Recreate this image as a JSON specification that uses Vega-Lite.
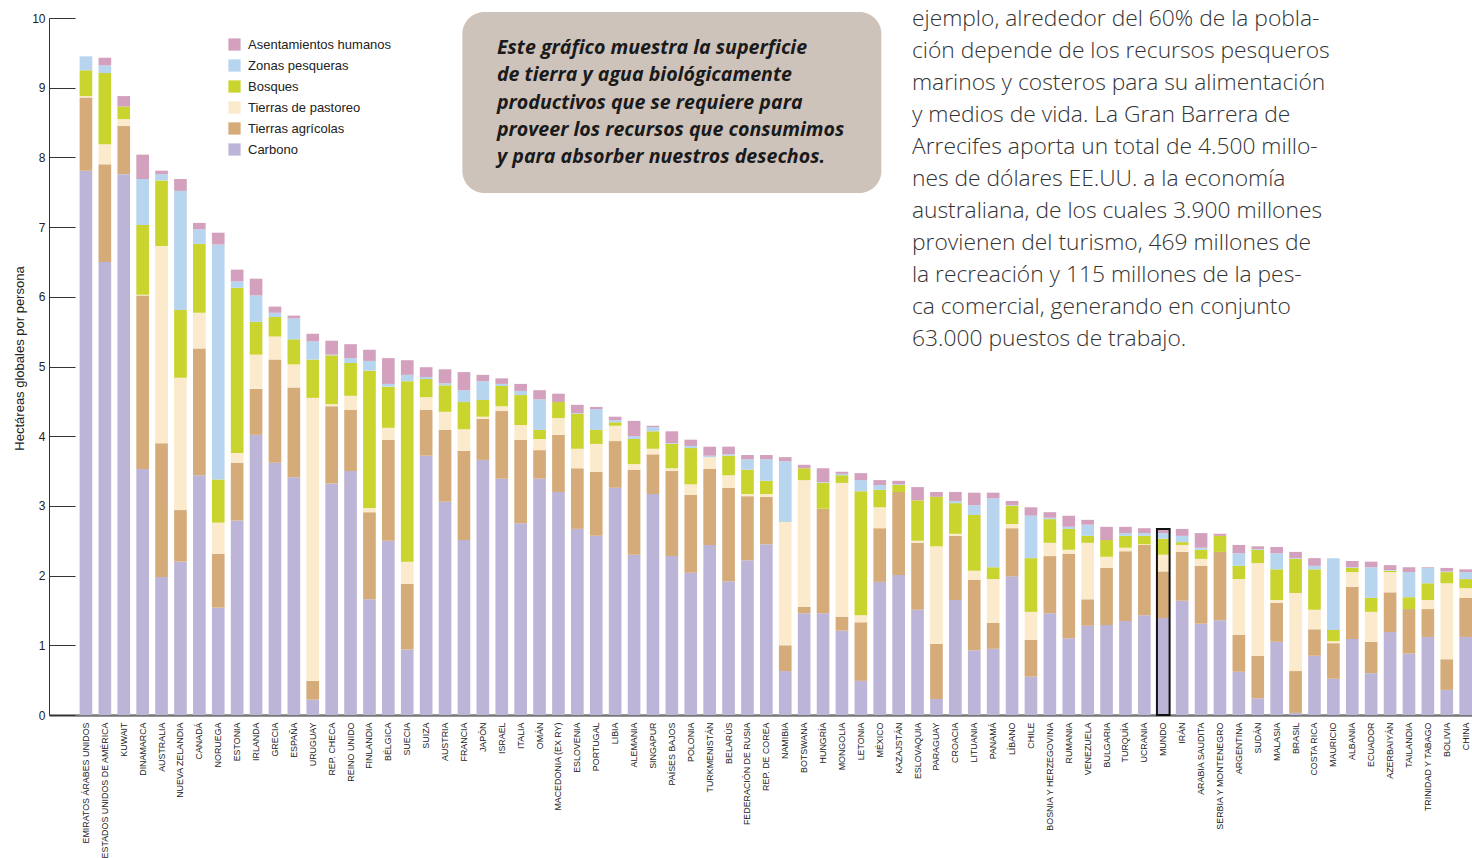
{
  "$schema": "https://vega.github.io/schema/vega-lite/v6.json",
  "width": 1423,
  "height": 697,
  "autosize": {"type": "none"},
  "padding": {"left": 49, "top": 18, "right": 0, "bottom": 143},
  "background": "white",
  "config": {"view": {"stroke": null}, "font": "Liberation Sans"},
  "datasets": {
    "capas": [
      {"tipo": "Carbono", "orden": 1},
      {"tipo": "Tierras agrícolas", "orden": 2},
      {"tipo": "Tierras de pastoreo", "orden": 3},
      {"tipo": "Bosques", "orden": 4},
      {"tipo": "Zonas pesqueras", "orden": 5},
      {"tipo": "Asentamientos humanos", "orden": 6}
    ],
    "huella": [
      {"pais": "EMIRATOS ÁRABES UNIDOS", "Carbono": 7.81, "Tierras agrícolas": 1.05, "Tierras de pastoreo": 0.02, "Bosques": 0.37, "Zonas pesqueras": 0.20, "Asentamientos humanos": 0.0},
      {"pais": "ESTADOS UNIDOS DE AMÉRICA", "Carbono": 6.50, "Tierras agrícolas": 1.40, "Tierras de pastoreo": 0.29, "Bosques": 1.02, "Zonas pesqueras": 0.11, "Asentamientos humanos": 0.11},
      {"pais": "KUWAIT", "Carbono": 7.76, "Tierras agrícolas": 0.69, "Tierras de pastoreo": 0.10, "Bosques": 0.18, "Zonas pesqueras": 0.0, "Asentamientos humanos": 0.15},
      {"pais": "DINAMARCA", "Carbono": 3.53, "Tierras agrícolas": 2.49, "Tierras de pastoreo": 0.01, "Bosques": 1.00, "Zonas pesqueras": 0.66, "Asentamientos humanos": 0.35},
      {"pais": "AUSTRALIA", "Carbono": 1.98, "Tierras agrícolas": 1.92, "Tierras de pastoreo": 2.83, "Bosques": 0.94, "Zonas pesqueras": 0.09, "Asentamientos humanos": 0.05},
      {"pais": "NUEVA ZELANDIA", "Carbono": 2.20, "Tierras agrícolas": 0.74, "Tierras de pastoreo": 1.90, "Bosques": 0.97, "Zonas pesqueras": 1.71, "Asentamientos humanos": 0.17},
      {"pais": "CANADÁ", "Carbono": 3.44, "Tierras agrícolas": 1.82, "Tierras de pastoreo": 0.51, "Bosques": 0.99, "Zonas pesqueras": 0.21, "Asentamientos humanos": 0.09},
      {"pais": "NORUEGA", "Carbono": 1.54, "Tierras agrícolas": 0.77, "Tierras de pastoreo": 0.45, "Bosques": 0.62, "Zonas pesqueras": 3.37, "Asentamientos humanos": 0.17},
      {"pais": "ESTONIA", "Carbono": 2.79, "Tierras agrícolas": 0.83, "Tierras de pastoreo": 0.14, "Bosques": 2.37, "Zonas pesqueras": 0.09, "Asentamientos humanos": 0.17},
      {"pais": "IRLANDA", "Carbono": 4.02, "Tierras agrícolas": 0.66, "Tierras de pastoreo": 0.49, "Bosques": 0.47, "Zonas pesqueras": 0.38, "Asentamientos humanos": 0.24},
      {"pais": "GRECIA", "Carbono": 3.62, "Tierras agrícolas": 1.48, "Tierras de pastoreo": 0.33, "Bosques": 0.28, "Zonas pesqueras": 0.06, "Asentamientos humanos": 0.09},
      {"pais": "ESPAÑA", "Carbono": 3.41, "Tierras agrícolas": 1.29, "Tierras de pastoreo": 0.33, "Bosques": 0.36, "Zonas pesqueras": 0.30, "Asentamientos humanos": 0.04},
      {"pais": "URUGUAY", "Carbono": 0.22, "Tierras agrícolas": 0.27, "Tierras de pastoreo": 4.06, "Bosques": 0.55, "Zonas pesqueras": 0.26, "Asentamientos humanos": 0.11},
      {"pais": "REP. CHECA", "Carbono": 3.32, "Tierras agrícolas": 1.11, "Tierras de pastoreo": 0.03, "Bosques": 0.70, "Zonas pesqueras": 0.01, "Asentamientos humanos": 0.20},
      {"pais": "REINO UNIDO", "Carbono": 3.50, "Tierras agrícolas": 0.88, "Tierras de pastoreo": 0.20, "Bosques": 0.47, "Zonas pesqueras": 0.07, "Asentamientos humanos": 0.20},
      {"pais": "FINLANDIA", "Carbono": 1.66, "Tierras agrícolas": 1.25, "Tierras de pastoreo": 0.06, "Bosques": 1.97, "Zonas pesqueras": 0.14, "Asentamientos humanos": 0.16},
      {"pais": "BÉLGICA", "Carbono": 2.50, "Tierras agrícolas": 1.45, "Tierras de pastoreo": 0.17, "Bosques": 0.59, "Zonas pesqueras": 0.04, "Asentamientos humanos": 0.37},
      {"pais": "SUECIA", "Carbono": 0.94, "Tierras agrícolas": 0.94, "Tierras de pastoreo": 0.32, "Bosques": 2.59, "Zonas pesqueras": 0.09, "Asentamientos humanos": 0.21},
      {"pais": "SUIZA", "Carbono": 3.72, "Tierras agrícolas": 0.66, "Tierras de pastoreo": 0.18, "Bosques": 0.26, "Zonas pesqueras": 0.03, "Asentamientos humanos": 0.14},
      {"pais": "AUSTRIA", "Carbono": 3.06, "Tierras agrícolas": 1.03, "Tierras de pastoreo": 0.26, "Bosques": 0.38, "Zonas pesqueras": 0.03, "Asentamientos humanos": 0.20},
      {"pais": "FRANCIA", "Carbono": 2.51, "Tierras agrícolas": 1.28, "Tierras de pastoreo": 0.31, "Bosques": 0.39, "Zonas pesqueras": 0.17, "Asentamientos humanos": 0.26},
      {"pais": "JAPÓN", "Carbono": 3.66, "Tierras agrícolas": 0.59, "Tierras de pastoreo": 0.03, "Bosques": 0.24, "Zonas pesqueras": 0.27, "Asentamientos humanos": 0.09},
      {"pais": "ISRAEL", "Carbono": 3.39, "Tierras agrícolas": 0.97, "Tierras de pastoreo": 0.07, "Bosques": 0.29, "Zonas pesqueras": 0.03, "Asentamientos humanos": 0.08},
      {"pais": "ITALIA", "Carbono": 2.75, "Tierras agrícolas": 1.20, "Tierras de pastoreo": 0.21, "Bosques": 0.43, "Zonas pesqueras": 0.06, "Asentamientos humanos": 0.10},
      {"pais": "OMÁN", "Carbono": 3.39, "Tierras agrícolas": 0.41, "Tierras de pastoreo": 0.16, "Bosques": 0.13, "Zonas pesqueras": 0.44, "Asentamientos humanos": 0.13},
      {"pais": "MACEDONIA (EX RY)", "Carbono": 3.20, "Tierras agrícolas": 0.82, "Tierras de pastoreo": 0.24, "Bosques": 0.23, "Zonas pesqueras": 0.0, "Asentamientos humanos": 0.12},
      {"pais": "ESLOVENIA", "Carbono": 2.67, "Tierras agrícolas": 0.87, "Tierras de pastoreo": 0.28, "Bosques": 0.50, "Zonas pesqueras": 0.01, "Asentamientos humanos": 0.12},
      {"pais": "PORTUGAL", "Carbono": 2.57, "Tierras agrícolas": 0.92, "Tierras de pastoreo": 0.40, "Bosques": 0.20, "Zonas pesqueras": 0.30, "Asentamientos humanos": 0.03},
      {"pais": "LIBIA", "Carbono": 3.26, "Tierras agrícolas": 0.67, "Tierras de pastoreo": 0.22, "Bosques": 0.05, "Zonas pesqueras": 0.03, "Asentamientos humanos": 0.05},
      {"pais": "ALEMANIA", "Carbono": 2.30, "Tierras agrícolas": 1.22, "Tierras de pastoreo": 0.08, "Bosques": 0.36, "Zonas pesqueras": 0.04, "Asentamientos humanos": 0.22},
      {"pais": "SINGAPUR", "Carbono": 3.17, "Tierras agrícolas": 0.57, "Tierras de pastoreo": 0.08, "Bosques": 0.25, "Zonas pesqueras": 0.06, "Asentamientos humanos": 0.02},
      {"pais": "PAÍSES BAJOS", "Carbono": 2.28, "Tierras agrícolas": 1.22, "Tierras de pastoreo": 0.04, "Bosques": 0.35, "Zonas pesqueras": 0.01, "Asentamientos humanos": 0.17},
      {"pais": "POLONIA", "Carbono": 2.04, "Tierras agrícolas": 1.12, "Tierras de pastoreo": 0.15, "Bosques": 0.52, "Zonas pesqueras": 0.03, "Asentamientos humanos": 0.09},
      {"pais": "TURKMENISTÁN", "Carbono": 2.44, "Tierras agrícolas": 1.09, "Tierras de pastoreo": 0.17, "Bosques": 0.0, "Zonas pesqueras": 0.02, "Asentamientos humanos": 0.13},
      {"pais": "BELARÚS", "Carbono": 1.92, "Tierras agrícolas": 1.34, "Tierras de pastoreo": 0.18, "Bosques": 0.28, "Zonas pesqueras": 0.02, "Asentamientos humanos": 0.11},
      {"pais": "FEDERACIÓN DE RUSIA", "Carbono": 2.22, "Tierras agrícolas": 0.92, "Tierras de pastoreo": 0.03, "Bosques": 0.35, "Zonas pesqueras": 0.15, "Asentamientos humanos": 0.06},
      {"pais": "REP. DE COREA", "Carbono": 2.45, "Tierras agrícolas": 0.68, "Tierras de pastoreo": 0.04, "Bosques": 0.19, "Zonas pesqueras": 0.31, "Asentamientos humanos": 0.06},
      {"pais": "NAMIBIA", "Carbono": 0.63, "Tierras agrícolas": 0.37, "Tierras de pastoreo": 1.77, "Bosques": 0.0, "Zonas pesqueras": 0.87, "Asentamientos humanos": 0.06},
      {"pais": "BOTSWANA", "Carbono": 1.46, "Tierras agrícolas": 0.09, "Tierras de pastoreo": 1.82, "Bosques": 0.17, "Zonas pesqueras": 0.0, "Asentamientos humanos": 0.05},
      {"pais": "HUNGRÍA", "Carbono": 1.46, "Tierras agrícolas": 1.50, "Tierras de pastoreo": 0.0, "Bosques": 0.37, "Zonas pesqueras": 0.01, "Asentamientos humanos": 0.20},
      {"pais": "MONGOLIA", "Carbono": 1.21, "Tierras agrícolas": 0.20, "Tierras de pastoreo": 1.92, "Bosques": 0.11, "Zonas pesqueras": 0.02, "Asentamientos humanos": 0.03},
      {"pais": "LETONIA", "Carbono": 0.49, "Tierras agrícolas": 0.84, "Tierras de pastoreo": 0.10, "Bosques": 1.78, "Zonas pesqueras": 0.16, "Asentamientos humanos": 0.10},
      {"pais": "MÉXICO", "Carbono": 1.91, "Tierras agrícolas": 0.77, "Tierras de pastoreo": 0.30, "Bosques": 0.25, "Zonas pesqueras": 0.07, "Asentamientos humanos": 0.07},
      {"pais": "KAZAJSTÁN", "Carbono": 2.01, "Tierras agrícolas": 1.19, "Tierras de pastoreo": 0.0, "Bosques": 0.10, "Zonas pesqueras": 0.01, "Asentamientos humanos": 0.05},
      {"pais": "ESLOVAQUIA", "Carbono": 1.51, "Tierras agrícolas": 0.96, "Tierras de pastoreo": 0.03, "Bosques": 0.58, "Zonas pesqueras": 0.0, "Asentamientos humanos": 0.19},
      {"pais": "PARAGUAY", "Carbono": 0.23, "Tierras agrícolas": 0.79, "Tierras de pastoreo": 1.40, "Bosques": 0.71, "Zonas pesqueras": 0.0, "Asentamientos humanos": 0.07},
      {"pais": "CROACIA", "Carbono": 1.65, "Tierras agrícolas": 0.92, "Tierras de pastoreo": 0.03, "Bosques": 0.44, "Zonas pesqueras": 0.03, "Asentamientos humanos": 0.13},
      {"pais": "LITUANIA", "Carbono": 0.93, "Tierras agrícolas": 1.01, "Tierras de pastoreo": 0.13, "Bosques": 0.80, "Zonas pesqueras": 0.14, "Asentamientos humanos": 0.18},
      {"pais": "PANAMÁ", "Carbono": 0.95, "Tierras agrícolas": 0.37, "Tierras de pastoreo": 0.63, "Bosques": 0.17, "Zonas pesqueras": 0.99, "Asentamientos humanos": 0.08},
      {"pais": "LÍBANO", "Carbono": 1.99, "Tierras agrícolas": 0.69, "Tierras de pastoreo": 0.06, "Bosques": 0.26, "Zonas pesqueras": 0.01, "Asentamientos humanos": 0.06},
      {"pais": "CHILE", "Carbono": 0.55, "Tierras agrícolas": 0.53, "Tierras de pastoreo": 0.40, "Bosques": 0.77, "Zonas pesqueras": 0.61, "Asentamientos humanos": 0.12},
      {"pais": "BOSNIA Y HERZEGOVINA", "Carbono": 1.46, "Tierras agrícolas": 0.82, "Tierras de pastoreo": 0.19, "Bosques": 0.34, "Zonas pesqueras": 0.02, "Asentamientos humanos": 0.08},
      {"pais": "RUMANIA", "Carbono": 1.10, "Tierras agrícolas": 1.21, "Tierras de pastoreo": 0.06, "Bosques": 0.30, "Zonas pesqueras": 0.03, "Asentamientos humanos": 0.16},
      {"pais": "VENEZUELA", "Carbono": 1.28, "Tierras agrícolas": 0.38, "Tierras de pastoreo": 0.81, "Bosques": 0.10, "Zonas pesqueras": 0.16, "Asentamientos humanos": 0.07},
      {"pais": "BULGARIA", "Carbono": 1.29, "Tierras agrícolas": 0.82, "Tierras de pastoreo": 0.16, "Bosques": 0.24, "Zonas pesqueras": 0.0, "Asentamientos humanos": 0.19},
      {"pais": "TURQUÍA", "Carbono": 1.35, "Tierras agrícolas": 1.00, "Tierras de pastoreo": 0.05, "Bosques": 0.17, "Zonas pesqueras": 0.04, "Asentamientos humanos": 0.09},
      {"pais": "UCRANIA", "Carbono": 1.43, "Tierras agrícolas": 1.01, "Tierras de pastoreo": 0.01, "Bosques": 0.12, "Zonas pesqueras": 0.04, "Asentamientos humanos": 0.07},
      {"pais": "MUNDO", "Carbono": 1.39, "Tierras agrícolas": 0.67, "Tierras de pastoreo": 0.24, "Bosques": 0.23, "Zonas pesqueras": 0.08, "Asentamientos humanos": 0.06},
      {"pais": "IRÁN", "Carbono": 1.64, "Tierras agrícolas": 0.70, "Tierras de pastoreo": 0.10, "Bosques": 0.04, "Zonas pesqueras": 0.09, "Asentamientos humanos": 0.10},
      {"pais": "ARABIA SAUDITA", "Carbono": 1.31, "Tierras agrícolas": 0.83, "Tierras de pastoreo": 0.10, "Bosques": 0.13, "Zonas pesqueras": 0.03, "Asentamientos humanos": 0.21},
      {"pais": "SERBIA Y MONTENEGRO", "Carbono": 1.36, "Tierras agrícolas": 0.98, "Tierras de pastoreo": 0.0, "Bosques": 0.23, "Zonas pesqueras": 0.0, "Asentamientos humanos": 0.03},
      {"pais": "ARGENTINA", "Carbono": 0.62, "Tierras agrícolas": 0.53, "Tierras de pastoreo": 0.80, "Bosques": 0.19, "Zonas pesqueras": 0.18, "Asentamientos humanos": 0.12},
      {"pais": "SUDÁN", "Carbono": 0.24, "Tierras agrícolas": 0.61, "Tierras de pastoreo": 1.33, "Bosques": 0.19, "Zonas pesqueras": 0.01, "Asentamientos humanos": 0.04},
      {"pais": "MALASIA", "Carbono": 1.05, "Tierras agrícolas": 0.56, "Tierras de pastoreo": 0.04, "Bosques": 0.44, "Zonas pesqueras": 0.23, "Asentamientos humanos": 0.09},
      {"pais": "BRASIL", "Carbono": 0.03, "Tierras agrícolas": 0.60, "Tierras de pastoreo": 1.12, "Bosques": 0.49, "Zonas pesqueras": 0.01, "Asentamientos humanos": 0.09},
      {"pais": "COSTA RICA", "Carbono": 0.85, "Tierras agrícolas": 0.38, "Tierras de pastoreo": 0.28, "Bosques": 0.58, "Zonas pesqueras": 0.05, "Asentamientos humanos": 0.11},
      {"pais": "MAURICIO", "Carbono": 0.52, "Tierras agrícolas": 0.51, "Tierras de pastoreo": 0.03, "Bosques": 0.16, "Zonas pesqueras": 1.03, "Asentamientos humanos": 0.0},
      {"pais": "ALBANIA", "Carbono": 1.09, "Tierras agrícolas": 0.75, "Tierras de pastoreo": 0.21, "Bosques": 0.06, "Zonas pesqueras": 0.01, "Asentamientos humanos": 0.09},
      {"pais": "ECUADOR", "Carbono": 0.60, "Tierras agrícolas": 0.45, "Tierras de pastoreo": 0.43, "Bosques": 0.20, "Zonas pesqueras": 0.44, "Asentamientos humanos": 0.08},
      {"pais": "AZERBAIYÁN", "Carbono": 1.19, "Tierras agrícolas": 0.57, "Tierras de pastoreo": 0.29, "Bosques": 0.02, "Zonas pesqueras": 0.01, "Asentamientos humanos": 0.07},
      {"pais": "TAILANDIA", "Carbono": 0.88, "Tierras agrícolas": 0.64, "Tierras de pastoreo": 0.0, "Bosques": 0.17, "Zonas pesqueras": 0.36, "Asentamientos humanos": 0.07},
      {"pais": "TRINIDAD Y TABAGO", "Carbono": 1.12, "Tierras agrícolas": 0.40, "Tierras de pastoreo": 0.13, "Bosques": 0.24, "Zonas pesqueras": 0.22, "Asentamientos humanos": 0.01},
      {"pais": "BOLIVIA", "Carbono": 0.36, "Tierras agrícolas": 0.44, "Tierras de pastoreo": 1.09, "Bosques": 0.16, "Zonas pesqueras": 0.01, "Asentamientos humanos": 0.05},
      {"pais": "CHINA", "Carbono": 1.12, "Tierras agrícolas": 0.56, "Tierras de pastoreo": 0.14, "Bosques": 0.13, "Zonas pesqueras": 0.10, "Asentamientos humanos": 0.04}
    ]
  },
  "layer": [
    {
      "data": {"name": "huella"},
      "transform": [
        {"fold": ["Carbono", "Tierras agrícolas", "Tierras de pastoreo", "Bosques", "Zonas pesqueras", "Asentamientos humanos"], "as": ["tipo", "valor"]},
        {"lookup": "tipo", "from": {"data": {"name": "capas"}, "key": "tipo", "fields": ["orden"]}}
      ],
      "mark": {"type": "bar"},
      "encoding": {
        "x": {
          "field": "pais",
          "type": "nominal",
          "sort": null,
          "scale": {
            "domain": ["EMIRATOS ÁRABES UNIDOS", "ESTADOS UNIDOS DE AMÉRICA", "KUWAIT", "DINAMARCA", "AUSTRALIA", "NUEVA ZELANDIA", "CANADÁ", "NORUEGA", "ESTONIA", "IRLANDA", "GRECIA", "ESPAÑA", "URUGUAY", "REP. CHECA", "REINO UNIDO", "FINLANDIA", "BÉLGICA", "SUECIA", "SUIZA", "AUSTRIA", "FRANCIA", "JAPÓN", "ISRAEL", "ITALIA", "OMÁN", "MACEDONIA (EX RY)", "ESLOVENIA", "PORTUGAL", "LIBIA", "ALEMANIA", "SINGAPUR", "PAÍSES BAJOS", "POLONIA", "TURKMENISTÁN", "BELARÚS", "FEDERACIÓN DE RUSIA", "REP. DE COREA", "NAMIBIA", "BOTSWANA", "HUNGRÍA", "MONGOLIA", "LETONIA", "MÉXICO", "KAZAJSTÁN", "ESLOVAQUIA", "PARAGUAY", "CROACIA", "LITUANIA", "PANAMÁ", "LÍBANO", "CHILE", "BOSNIA Y HERZEGOVINA", "RUMANIA", "VENEZUELA", "BULGARIA", "TURQUÍA", "UCRANIA", "MUNDO", "IRÁN", "ARABIA SAUDITA", "SERBIA Y MONTENEGRO", "ARGENTINA", "SUDÁN", "MALASIA", "BRASIL", "COSTA RICA", "MAURICIO", "ALBANIA", "ECUADOR", "AZERBAIYÁN", "TAILANDIA", "TRINIDAD Y TABAGO", "BOLIVIA", "CHINA"],
            "paddingInner": 0.33,
            "paddingOuter": 0.81,
            "align": 1
          },
          "axis": {
            "title": null,
            "labelAngle": 270,
            "labelFontSize": 8.9,
            "labelFont": "Liberation Sans",
            "labelColor": "#222222",
            "ticks": false,
            "labelPadding": 7,
            "domainColor": "#777777",
            "domainWidth": 2.5,
            "labelLimit": 300,
            "labelOverlap": false
          }
        },
        "y": {
          "field": "valor",
          "type": "quantitative",
          "stack": "zero",
          "scale": {"domain": [0, 10], "nice": false},
          "axis": {
            "title": "Hectáreas globales por persona",
            "titleFont": "Liberation Sans",
            "titleFontSize": 13,
            "titleFontWeight": "normal",
            "titleColor": "#222222",
            "titleX": -23,
            "titleY": 340,
            "titleAngle": 270,
            "titleAlign": "center",
            "titleBaseline": "bottom",
            "values": [0, 1, 2, 3, 4, 5, 6, 7, 8, 9, 10],
            "format": "d",
            "grid": false,
            "tickSize": -26,
            "tickColor": "#333333",
            "domainColor": "#333333",
            "labelPadding": 30,
            "labelFontSize": 12,
            "labelFont": "Liberation Sans",
            "labelColor": "#222222"
          }
        },
        "color": {
          "field": "tipo",
          "type": "nominal",
          "scale": {
            "domain": ["Asentamientos humanos", "Zonas pesqueras", "Bosques", "Tierras de pastoreo", "Tierras agrícolas", "Carbono"],
            "range": ["#d3a1bd", "#b7d5ee", "#c9d42e", "#fbeacc", "#d5ab79", "#bdb5d8"]
          },
          "legend": {
            "title": null,
            "orient": "none",
            "legendX": 179,
            "legendY": 20,
            "padding": 0,
            "symbolType": "square",
            "symbolSize": 150,
            "symbolStrokeWidth": 0,
            "labelFontSize": 13,
            "labelFont": "Liberation Sans",
            "labelColor": "#222222",
            "rowPadding": 7,
            "labelOffset": 7
          }
        },
        "order": {"field": "orden", "type": "quantitative", "sort": "ascending"}
      }
    },
    {
      "data": {"name": "huella"},
      "transform": [
        {"filter": "datum.pais === 'MUNDO'"},
        {"fold": ["Carbono", "Tierras agrícolas", "Tierras de pastoreo", "Bosques", "Zonas pesqueras", "Asentamientos humanos"], "as": ["tipo", "valor"]},
        {"aggregate": [{"op": "sum", "field": "valor", "as": "total"}], "groupby": ["pais"]}
      ],
      "mark": {"type": "bar", "filled": false, "stroke": "#111111", "strokeWidth": 2},
      "encoding": {
        "x": {"field": "pais", "type": "nominal", "sort": null},
        "y": {"field": "total", "type": "quantitative"}
      }
    },
    {
      "mark": {"type": "rule", "color": "#1d9155", "strokeWidth": 1.5},
      "encoding": {"y": {"datum": 2.05, "type": "quantitative"}}
    },
    {
      "data": {"name": "huella"},
      "transform": [{"filter": "datum.pais === 'PAÍSES BAJOS'"}],
      "mark": {"type": "bar", "width": 419, "cornerRadius": 22, "color": "#cdc3bb"},
      "encoding": {
        "x": {"field": "pais", "type": "nominal", "sort": null},
        "y": {"datum": 10.086, "type": "quantitative"},
        "y2": {"datum": 7.49}
      }
    },
    {
      "data": {"name": "huella"},
      "transform": [{"filter": "datum.pais === 'ISRAEL'"}],
      "mark": {"type": "text", "align": "left", "baseline": "alphabetic", "dx": -4.8, "font": "Open Sans", "fontSize": 19.6, "fontWeight": "bold", "fontStyle": "italic", "color": "#1a1a1a", "lineHeight": 27.3},
      "encoding": {
        "x": {"field": "pais", "type": "nominal", "sort": null},
        "y": {"datum": 9.483, "type": "quantitative"},
        "text": {"value": ["Este gráfico muestra la superficie", "de tierra y agua biológicamente", "productivos que se requiere para", "proveer los recursos que consumimos", "y para absorber nuestros desechos."]}
      }
    },
    {
      "data": {"name": "huella"},
      "transform": [{"filter": "datum.pais === 'ESLOVAQUIA'"}],
      "mark": {"type": "text", "align": "left", "baseline": "alphabetic", "dx": -5.6, "font": "Open Sans", "fontSize": 22.8, "fontWeight": 300, "color": "#333333", "lineHeight": 32},
      "encoding": {
        "x": {"field": "pais", "type": "nominal", "sort": null},
        "y": {"datum": 9.885, "type": "quantitative"},
        "text": {"value": ["ejemplo, alrededor del 60% de la pobla-", "ción depende de los recursos pesqueros", "marinos y costeros para su alimentación", "y medios de vida. La Gran Barrera de", "Arrecifes aporta un total de 4.500 millo-", "nes de dólares EE.UU. a la economía", "australiana, de los cuales 3.900 millones", "provienen del turismo, 469 millones de", "la recreación y 115 millones de la pes-", "ca comercial, generando en conjunto", "63.000 puestos de trabajo."]}
      }
    }
  ]
}
